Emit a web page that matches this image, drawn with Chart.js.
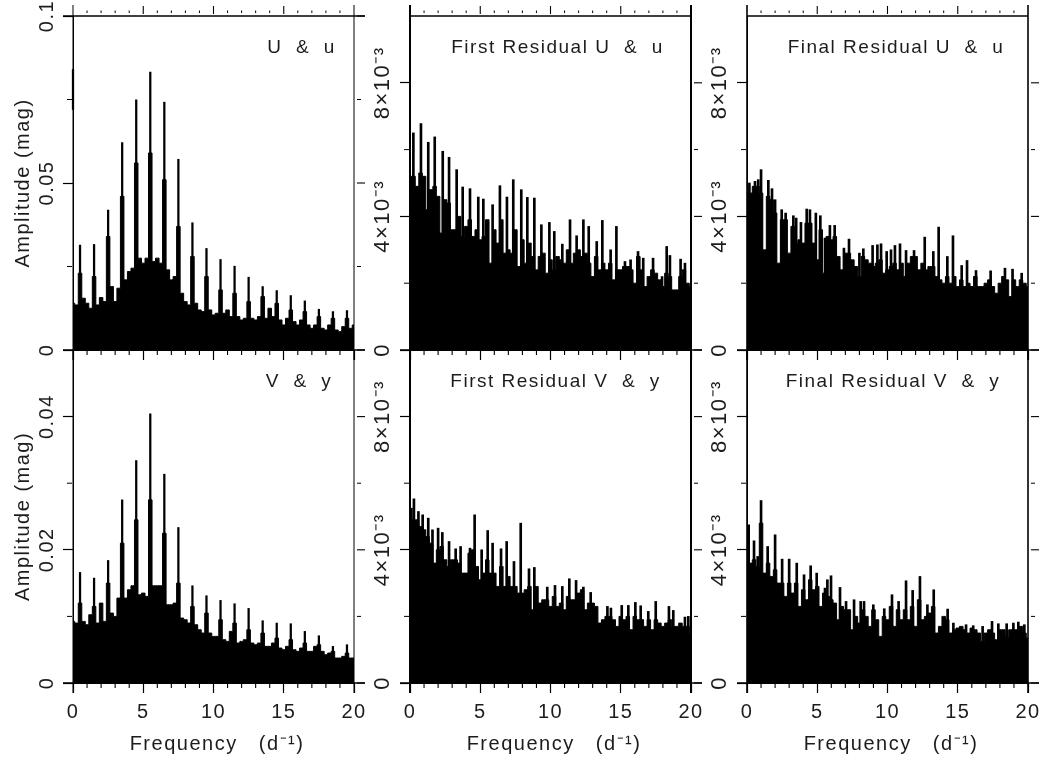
<!DOCTYPE html>
<html><head><meta charset="utf-8">
<script src="https://cdn.jsdelivr.net/npm/chart.js@4"></script>
<style>html,body{margin:0;padding:0;background:#fff;width:1041px;height:757px;overflow:hidden}canvas{position:absolute}</style>
</head><body>
<script>
const floorFreq=[0,.25,.5,.75,1,1.25,1.5,1.75,2,2.25,2.5,2.75,3,3.25,3.5,3.75,4,4.25,4.5,4.75,5,5.25,5.5,5.75,6,6.25,6.5,6.75,7,7.25,7.5,7.75,8,8.25,8.5,8.75,9,9.25,9.5,9.75,10,10.25,10.5,10.75,11,11.25,11.5,11.75,12,12.25,12.5,12.75,13,13.25,13.5,13.75,14,14.25,14.5,14.75,15,15.25,15.5,15.75,16,16.25,16.5,16.75,17,17.25,17.5,17.75,18,18.25,18.5,18.75,19,19.25,19.5,19.75,20];
const harmonicFreq=[.5,1.5,2.5,3.5,4.5,5.5,6.5,7.5,8.5,9.5,10.5,11.5,12.5,13.5,14.5,15.5,16.5,17.5,18.5,19.5];

const uFloor=[.014,.0135,.023,.0155,.014,.0125,.022,.0135,.0157,.0145,.034,.019,.0145,.0185,.046,.021,.0235,.0245,.056,.0275,.026,.0275,.059,.0265,.0275,.026,.051,.024,.021,.022,.037,.017,.0145,.0135,.028,.014,.012,.0115,.022,.012,.0105,.011,.018,.011,.012,.01,.017,.01,.009,.0095,.0145,.0095,.009,.01,.016,.0095,.0125,.01,.014,.009,.0075,.0095,.012,.0085,.0075,.009,.0115,.0075,.0065,.0075,.01,.0065,.006,.0075,.0095,.006,.0055,.007,.0095,.0065,.0075];
const uSpikes=[.0314,.0316,.0419,.0621,.0749,.0832,.0742,.0571,.0381,.0304,.0271,.0251,.0218,.019,.0178,.0163,.0147,.0122,.0115,.0118];
const uEdgeSpan=[.072,.084];

const vFloor=[.00925,.009,.012,.00925,.00875,.01025,.0115,.009,.012,.00925,.015,.0105,.01,.01275,.021,.01275,.014,.0146,.0245,.01325,.0135,.013,.0275,.0146,.0146,.0146,.0225,.01175,.01175,.012,.015,.00975,.0095,.009,.0115,.00875,.008,.0075,.0105,.0075,.007,.007,.0095,.0065,.00625,.00775,.009,.006,.00625,.0065,.008,.006,.00575,.006,.0075,.0055,.0055,.006,.00675,.00525,.005,.0055,.0065,.005,.00475,.00525,.006,.00475,.00475,.0055,.00575,.00475,.00425,.0045,.00475,.00375,.00375,.004,.0045,.00375,.00375];
const vSpikes=[.0166,.01575,.0184,.0275,.0334,.0404,.03135,.02335,.0146,.0131,.0124,.0119,.0112,.00935,.009,.0089,.00775,.0071,.0055,.00575];

const firstUFloor=[5.2,5.2,4.9,5.3,5.2,4.2,4.8,4.9,4.6,3.5,4.5,4.4,3.6,3.6,4,3.4,3.7,3.9,3.4,3.6,3.3,3.4,3.9,2.6,3.6,3.2,3.9,2.9,3,2.9,3.6,2.5,3.3,2.6,3.2,2.8,2.4,2.8,2.9,2.3,2.7,2.4,2.8,2.7,2.6,3,2.6,2.9,3,2.8,2.9,2.6,2.2,2.8,2.4,2.6,2.4,2.6,2.1,2.4,2.4,2.5,2.5,2.4,2,2.8,2.4,1.9,2.2,2.4,2.3,2.1,1.9,2.3,2.2,1.8,1.8,2.2,2.4,2,1.9];
const firstUSpikeFreq=[.24,.78,1.3,1.76,2.33,2.78,3.32,3.75,4.27,4.86,5.22,5.88,6.4,6.9,7.35,7.92,8.35,8.85,9.35,9.92,10.27,10.84,11.39,11.86,12.34,12.72,13.29,13.69,14.28,14.69,15.3,15.7,16.23,16.6,17.3,17.94,18.27,18.5,19.26,19.57];
const firstUSpikes=[6.5,6.78,6.22,6.38,5.95,5.77,5.4,4.88,4.83,4.58,4.52,4.35,4.92,4.58,5.1,4.8,4.57,4.55,3.75,3.82,3.55,3.17,3.9,3.42,3.9,3.7,3.25,3.88,3,3.7,2.65,2.7,2.95,2.75,2.75,2.2,3.1,2.83,2.72,2.6];

const finalUFloor=[4.2,4.7,4.9,4.9,4.7,3,4.6,4.5,4.1,2.6,3.9,3.9,2.9,3.7,3.2,3.3,3.2,3.8,3.8,3.2,2.7,3.6,2.3,3.4,3.3,3.4,2.8,2.4,2.9,2.9,2.7,2.5,2.2,2.8,2.7,2.6,2.5,2.6,2.7,2.3,2.4,2.5,2.6,2.4,2.6,2.2,2.6,2.8,2.8,2.4,2.6,2.4,2.5,2.5,2.2,2.1,2,2.2,2,2.2,1.9,2.1,1.9,2,1.9,2.2,1.9,1.9,2,2.1,1.9,1.7,2,2.2,2.1,1.6,2.1,1.9,2.1,2,1.9];
const finalUSpikeFreq=[.17,.57,.8,1,1.52,1.78,2,2.47,2.75,3.3,3.5,3.84,4.25,4.48,4.9,5.22,5.55,5.9,6.24,6.9,7.26,8,8.28,8.94,9.28,9.54,9.94,10.25,10.53,10.89,11.32,11.89,12.65,13.26,13.64,14.26,14.66,15.28,15.66,16.3,17.34,18.36,18.9,19.55];
const finalUSpikes=[5,5.05,5.1,5.4,5.08,4.83,4.5,4.2,4.1,4.02,3.95,3.82,4.22,4.2,4.1,4.02,3.35,3.73,3.73,3.05,3.32,2.9,3.03,3.13,3.15,3.18,2.95,3,3.13,3.18,2.98,2.98,3.38,2.95,3.68,2.8,3.42,2.53,2.68,2.38,2.37,2.45,2.42,2.3];

const firstVFloor=[4.3,4.9,4.9,4.7,4.6,4.4,4.2,3.6,4,4.1,3.7,3.5,3.7,3.7,3.6,3.3,3.3,3.9,4,3.5,3.1,3.3,3.7,3.3,3.3,2.9,3.5,2.9,3.2,2.9,2.9,2.7,2.7,2.8,2.9,2.2,2.9,2.4,2.5,2.5,2.3,2.6,2.3,2.4,2.2,2.6,2.5,2.5,2.7,2.8,2.2,2.4,2.4,2.3,1.8,1.9,2,2,1.9,1.7,2,1.9,2,1.6,2,1.9,1.9,1.7,1.9,1.6,1.9,1.8,1.7,1.8,1.9,1.7,1.7,1.8,1.7,1.7,1.45];
const firstVSpikeFreq=[.1,.28,.6,.9,1.3,1.6,2,2.3,2.78,3.25,3.6,4.27,4.6,5.1,5.53,5.88,6.48,6.88,7.4,7.88,8.47,8.85,9.77,10.32,10.84,11.34,11.82,12.34,12.86,14.05,14.3,15.07,15.54,16.04,16.42,16.96,17.49,18.43,18.74,19.57,19.81];
const firstVSpikes=[5.25,5.53,5.15,5.05,4.95,4.6,4.65,4.52,4.25,4.03,4.1,4.05,5.05,4,4.58,4.2,4.03,4.25,3.65,4.8,3.43,3.47,2.88,2.93,2.9,3.13,3.08,2.88,2.72,2.3,2.25,2.33,2.33,2.42,2.32,2.15,2.45,2.3,2.18,1.98,2];

const finalVFloor=[3.6,3.6,3.7,3.5,4.8,3.3,3.6,3.2,3.4,3,3,2.6,3,2.7,3,2.3,2.8,2.5,3.1,2.8,2.9,2.3,2.7,2.6,2.5,2.4,1.9,2.3,2.2,2.2,1.6,2,1.8,2.2,2,1.7,2.2,1.9,1.4,2,1.9,2.3,1.7,2.2,1.9,2.2,1.9,2.3,1.7,2.5,1.9,2,2.1,2.3,1.5,1.7,2,1.9,1.5,1.6,1.65,1.7,1.6,1.5,1.65,1.6,1.5,1.25,1.5,1.6,1.5,1.3,1.6,1.6,1.4,1.6,1.6,1.6,1.7,1.5,1.35];
const finalVSpikeFreq=[.12,.5,.76,1,1.47,2,2.5,3,3.54,4.06,4.53,4.96,5.55,5.72,5.98,6.62,7.05,7.62,8.09,8.33,8.99,9.77,10.32,10.79,11.32,11.79,12.31,12.84,13.29,14.28,14.69,15.59,16.1,16.77,17.44,17.89,18.48,18.96,19.31,19.74];
const finalVSpikes=[4.75,4.27,3.8,5.48,4.1,4.45,3.72,3.72,3.6,3.25,3.52,3.3,2.85,3.1,3.22,2.87,2.45,2.5,2.45,2.45,2.35,2.23,2.65,2.45,3.07,2.78,3.2,2.35,2.8,2.22,1.8,1.75,1.72,1.7,1.85,1.78,1.78,1.8,1.83,1.75];

const xMajor=[0,5,10,15,20];
const xMinor=[1,2,3,4,6,7,8,9,11,12,13,14,16,17,18,19];
const milliMajor=[0,4,8], milliMinor=[2,6], milliLabels=['0','4×10⁻³','8×10⁻³'];
const uMajor=[0,.05,.1], uMinor=[.025,.075], uLabels=['0','0.05','0.1'];
const vMajor=[0,.02,.04], vMinor=[.01,.03], vLabels=['0','0.02','0.04'];

const FONT='"Liberation Sans", Arial, sans-serif', INK='#1c1c1c';
const panels=[
 {label:'U  &  u',cx:301.5,cy:48,col:0,row:0,max:.1,maj:uMajor,min:uMinor,lab:uLabels,floor:uFloor,sf:harmonicFreq,sp:uSpikes,title:true,lw:1,pad:-4,fs:20,bw:1.6,edge:uEdgeSpan},
 {label:'First Residual U  &  u',cx:557.5,cy:48,col:1,row:0,max:10,maj:milliMajor,min:milliMinor,lab:milliLabels,floor:firstUFloor,sf:firstUSpikeFreq,sp:firstUSpikes,lw:2,pad:-15,fs:22,bw:2},
 {label:'Final Residual U  &  u',cx:896,cy:48,col:2,row:0,max:10,maj:milliMajor,min:milliMinor,lab:milliLabels,floor:finalUFloor,sf:finalUSpikeFreq,sp:finalUSpikes,lw:1.6,pad:-15,fs:22,bw:2},
 {label:'V  &  y',cx:299,cy:382,col:0,row:1,max:.05,maj:vMajor,min:vMinor,lab:vLabels,floor:vFloor,sf:harmonicFreq,sp:vSpikes,title:true,lw:1,pad:-4,fs:20,bw:1.6},
 {label:'First Residual V  &  y',cx:555.5,cy:382,col:1,row:1,max:10,maj:milliMajor,min:milliMinor,lab:milliLabels,floor:firstVFloor,sf:firstVSpikeFreq,sp:firstVSpikes,lw:2,pad:-15,fs:22,bw:2},
 {label:'Final Residual V  &  y',cx:893,cy:382,col:2,row:1,max:10,maj:milliMajor,min:milliMinor,lab:milliLabels,floor:finalVFloor,sf:finalVSpikeFreq,sp:finalVSpikes,lw:1.6,pad:-15,fs:22,bw:2}
];
const colLeft=[0,337,674], canvasW=367, axisW=73, plotW=281;
const rowBox=[{top:0,h:370,pad:16,axisH:20},{top:340,h:417,pad:10,axisH:74}];

const framePlugin={id:'frame',
 beforeDraw(c){c.ctx.letterSpacing='1.5px';},
 afterDraw(c,_a,o){
  const ctx=c.ctx,a=c.chartArea,xs=c.scales.x,ys=c.scales.y,p=o.panel;
  const line=(x1,y1,x2,y2,w)=>{ctx.lineWidth=w;ctx.beginPath();ctx.moveTo(x1,y1);ctx.lineTo(x2,y2);ctx.stroke();};
  ctx.save();ctx.strokeStyle='#000';ctx.fillStyle=INK;
  const topRow=p.row===0;
  line(a.left,topRow?a.top-11:a.top,a.left,a.bottom+10,p.lw);
  line(a.right,topRow?a.top-11:a.top,a.right,a.bottom+10,p.lw);
  line(a.left-10,a.bottom,a.right+11,a.bottom,1.6);
  if(p.col===0&&topRow)line(a.left-10,a.top,a.right+11,a.top,1.6);else line(a.left,a.top,a.right,a.top,1.6);
  xMinor.forEach(v=>{const x=xs.getPixelForValue(v);line(x,a.bottom,x,a.bottom+5,1.1);if(topRow)line(x,a.top-5.5,x,a.top-3,1);});
  if(topRow)xMajor.slice(1,-1).forEach(v=>{const x=xs.getPixelForValue(v);line(x,a.top-10,x,a.top-2,1.1);});
  p.min.forEach(v=>{const y=ys.getPixelForValue(v);line(a.left-6,y,a.left-1,y,1);line(a.right+3,y,a.right+7,y,1);});
  p.maj.forEach(v=>{const y=ys.getPixelForValue(v);line(a.right+3,y,a.right+11,y,1.1);});
  ctx.font='19px '+FONT;ctx.letterSpacing='1.5px';ctx.textAlign='center';ctx.textBaseline='middle';
  ctx.fillText(p.label,p.cx-colLeft[p.col],p.cy-rowBox[p.row].top);
  ctx.restore();
 }};

panels.forEach(p=>{
 const box=rowBox[p.row],cv=document.createElement('canvas');
 cv.width=canvasW;cv.height=box.h;
 cv.style.cssText=`left:${colLeft[p.col]}px;top:${box.top}px;width:${canvasW}px;height:${box.h}px`;
 document.body.appendChild(cv);
 const floorData=floorFreq.map((f,i)=>({x:f,y:p.floor[i]}));
 const spikeData=p.sf.map((f,i)=>({x:f,y:p.sp[i]}));
 if(p.edge)spikeData.push({x:0,y:p.edge});
 new Chart(cv,{type:'line',
  data:{datasets:[
   {type:'line',data:floorData,borderColor:'#000',backgroundColor:'#000',borderWidth:1,fill:'origin',pointRadius:0,stepped:'middle'},
   {type:'bar',data:spikeData,backgroundColor:'#000',borderWidth:0,barThickness:p.bw,clip:4}
  ]},
  plugins:[framePlugin],
  options:{responsive:false,animation:false,events:[],devicePixelRatio:1,
   layout:{padding:{top:box.pad,right:canvasW-axisW-plotW,left:0,bottom:0}},
   plugins:{legend:{display:false},tooltip:{enabled:false},title:{display:false},frame:{panel:p}},
   scales:{
    x:{type:'linear',min:0,max:20,offset:false,
     afterFit(s){s.height=box.axisH;s.paddingLeft=0;s.paddingRight=0;},
     afterBuildTicks(s){s.ticks=xMajor.map(v=>({value:v}));},
     grid:{display:true,offset:false,drawOnChartArea:false,drawTicks:true,tickLength:10,tickColor:'#000',tickWidth:1.2},
     border:{display:true,color:'#000',width:1},
     ticks:{display:p.row===1,autoSkip:false,maxRotation:0,minRotation:0,padding:7,color:INK,font:{family:FONT,size:20},callback:v=>String(v)},
     title:{display:p.row===1,text:' Frequency   (d⁻¹)',color:INK,font:{family:FONT,size:20},padding:{top:0,bottom:1}}
    },
    y:{type:'linear',min:0,max:p.max,
     afterFit(s){s.width=axisW;s.paddingTop=0;s.paddingBottom=0;},
     afterBuildTicks(s){s.ticks=p.maj.map(v=>({value:v}));},
     grid:{display:true,drawOnChartArea:false,drawTicks:true,tickLength:10,tickColor:'#000',tickWidth:1.2},
     border:{display:true,color:'#000',width:1},
     ticks:{autoSkip:false,minRotation:90,maxRotation:90,crossAlign:'center',padding:p.pad,color:INK,font:{family:FONT,size:p.fs},
       callback:v=>p.lab[p.maj.indexOf(v)]},
     title:{display:!!p.title,text:'Amplitude (mag)',color:INK,font:{family:FONT,size:20},padding:{top:11,bottom:0}}
    }
   }
  }
 });
});
</script>
</body></html>
